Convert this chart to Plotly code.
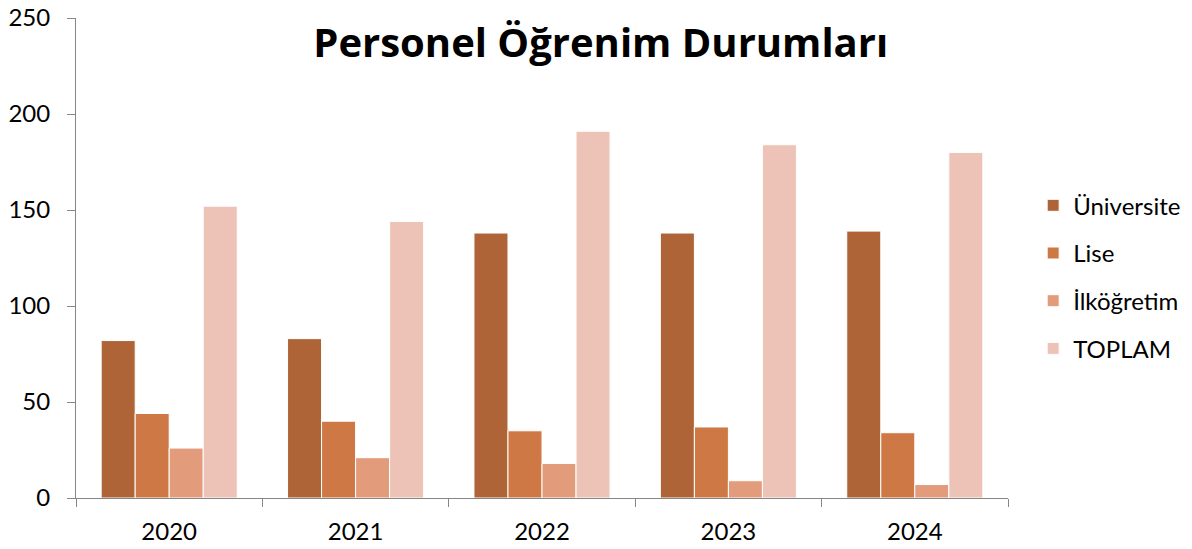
import plotly.graph_objects as go

years = ["2020", "2021", "2022", "2023", "2024"]
universite = [82, 83, 138, 138, 139]
lise = [44, 40, 35, 37, 34]
ilkogretim = [26, 21, 18, 9, 7]
toplam = [152, 144, 191, 184, 180]

series = [
    ("Üniversite", universite, "#AE6436"),
    ("Lise", lise, "#CE7845"),
    ("İlköğretim", ilkogretim, "#E29B7B"),
    ("TOPLAM", toplam, "#EEC3B7"),
]

FONT = "Lato"

fig = go.Figure()
for i, (name, vals, col) in enumerate(series):
    fig.add_trace(go.Bar(
        x=years, y=vals, name=name, legendgroup=str(i),
        marker=dict(color=col, line=dict(color="white", width=1)),
    ))

# the page body keeps its 8px left margin (top margin removed below)
fig.update_layout(
    width=1192, height=549,
    margin=dict(l=68, r=192, t=18, b=51),
    paper_bgcolor="white", plot_bgcolor="white",
    barmode="group", bargap=0.27, bargroupgap=0,
    font=dict(family=FONT, size=24, color="#000000"),
    title=dict(text="<b>Personel Öğrenim Durumları</b>", x=0.563, xref="paper",
               xanchor="center", y=0.922, yanchor="middle",
               font=dict(family="Open Sans", size=40, color="#000000")),
    showlegend=True,
    legend=dict(x=1.027, xanchor="left", y=0.46, yanchor="middle",
                traceorder="grouped", tracegroupgap=13.5,
                font=dict(family=FONT, size=24), itemwidth=30),
    xaxis=dict(type="category", tickson="boundaries", ticks="outside", ticklen=8,
               tickcolor="#868686", showline=True, linecolor="#868686", linewidth=1,
               showgrid=False, automargin=False, ticklabelstandoff=12,
               tickfont=dict(size=24)),
    yaxis=dict(range=[0, 250], dtick=50, ticks="outside", ticklen=8,
               tickcolor="#868686", showline=True, linecolor="#868686", linewidth=1,
               showgrid=False, zeroline=False, automargin=False, ticklabelstandoff=12,
               ticklabeloverflow="allow", tickfont=dict(size=24)),
)

fig.write_html("out.html", config={"displayModeBar": False},
               post_script="document.body.style.marginTop='0px';")
